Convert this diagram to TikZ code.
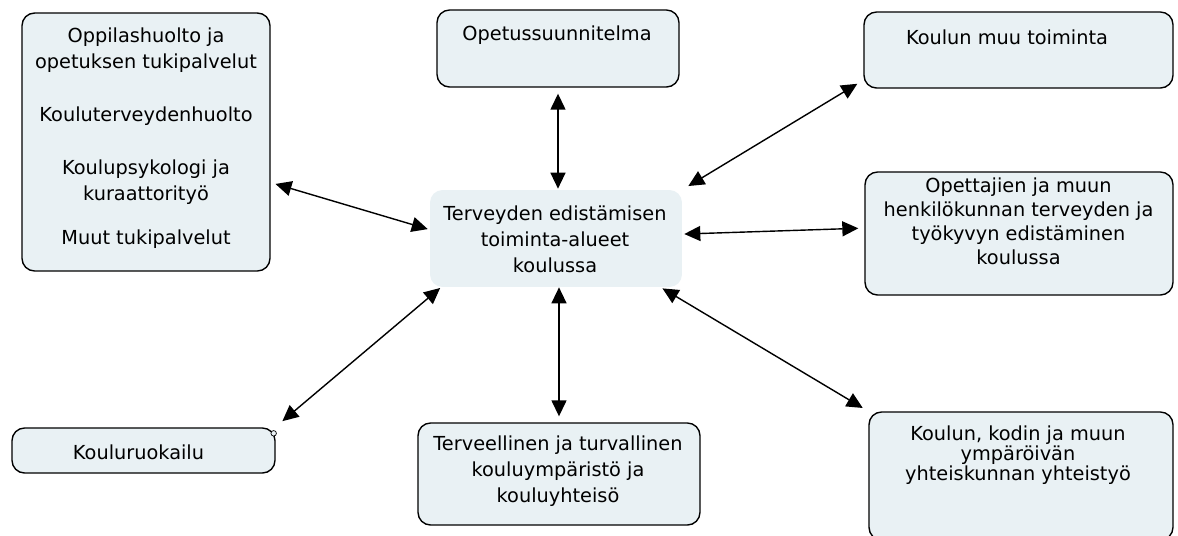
\documentclass[tikz,border=0pt]{standalone}
\usepackage{fontspec}
\setmainfont{DejaVu Sans}
\usetikzlibrary{arrows.meta}
\definecolor{boxfill}{HTML}{E9F1F4}
\tikzset{
  box/.style={draw, line width=0.8pt, rounded corners=0.25cm, fill=boxfill, inner sep=0pt},
  hubbox/.style={fill=boxfill, rounded corners=0.25cm, inner sep=0pt},
  txt/.style={align=center, inner sep=0pt, font=\fontsize{11}{#1}\selectfont},
  txt/.default=14.7,
  link/.style={{Triangle[length=0.32cm,width=0.3cm]}-{Triangle[length=0.32cm,width=0.3cm]}, line width=0.8pt}
}

\begin{document}
\begin{tikzpicture}[x=0.02cm,y=-0.02cm]
  \useasboundingbox (0,0) rectangle (1178,535);
  \clip (0,0) rectangle (1178,535);

  % boxes
  \node[box, minimum width=4.96cm, minimum height=5.16cm] (oppilas) at (146,142) {};
  \node[box, minimum width=4.84cm, minimum height=1.54cm] (opetus) at (558,48.5) {};
  \node[box, minimum width=6.18cm, minimum height=1.52cm] (muu) at (1018.5,50) {};
  \node[hubbox, minimum width=5.04cm, minimum height=1.94cm] (alueet) at (556,238.5) {};
  \node[box, minimum width=6.16cm, minimum height=2.46cm] (henkilo) at (1019,233.5) {};
  \node[box, minimum width=5.26cm, minimum height=0.9cm] (ruoka) at (143.5,450.5) {};
  \node[box, minimum width=5.64cm, minimum height=2.04cm] (ymparisto) at (559,474) {};
  \node[box, minimum width=6.08cm, minimum height=2.56cm] (yhteistyo) at (1021,476) {};
  \draw[line width=0.4pt, fill=boxfill] ([shift={(-2,6)}]ruoka.north east) circle[radius=0.055cm];

  % texts
  \node[txt=15] (oppilastxt) at (146,138) {Oppilashuolto ja\\opetuksen tukipalvelut\\[15pt]Kouluterveydenhuolto\\[15pt]Koulupsykologi ja\\kuraattorityö\\[10pt]Muut tukipalvelut};
  \node[txt] (opetustxt) at (557,35) {Opetussuunnitelma};
  \node[txt] (muutxt) at (1007,37) {Koulun muu toiminta};
  \node[txt] (alueettxt) at (555,239) {Terveyden edistämisen\\toiminta-alueet\\koulussa};
  \node[txt=13.6] (henkilotxt) at (1018.5,221) {Opettajien ja muun\\henkilökunnan terveyden ja\\työkyvyn edistäminen\\koulussa};
  \node[txt] (ruokatxt) at (138.5,452) {Kouluruokailu};
  \node[txt] (ymparistotxt) at (558,471) {Terveellinen ja turvallinen\\kouluympäristö ja\\kouluyhteisö};
  \node[txt=11.3] (yhteistyotxt) at (1018,455) {Koulun, kodin ja muun\\ympäröivän\\yhteiskunnan yhteistyö};

  % connectors
  \draw[link, shorten <=0.1cm, shorten >=0.04cm] (oppilas.-18) -- (alueet.176);
  \draw[link, shorten <=0.12cm, shorten >=0.02cm] (opetus.south) -- (opetus.south |- alueet.north);
  \draw[link, shorten <=0.14cm, shorten >=0.14cm] (muu.191) -- (alueet.north east);
  \draw[link, shorten <=0.12cm, shorten >=0.04cm] (henkilo.178) -- (alueet.2);
  \draw[link, shorten <=0.19cm, shorten >=0.02cm] (ruoka.10) -- (alueet.203);
  \draw[link, shorten <=0.12cm] (ymparisto.north) -- (ymparisto.north |- alueet.south);
  \draw[link, shorten <=0.13cm, shorten >=0.04cm] (yhteistyo.north west) -- (alueet.-25);
\end{tikzpicture}
\end{document}
